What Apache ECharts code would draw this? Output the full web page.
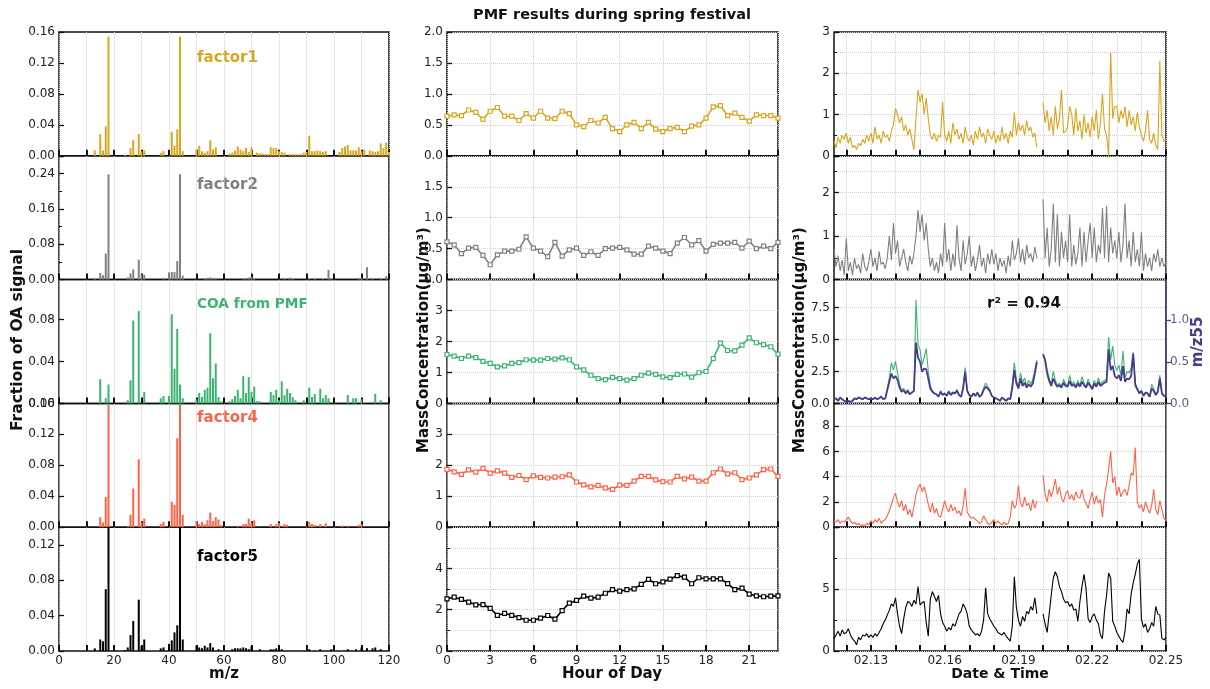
<!DOCTYPE html>
<html>
<head>
<meta charset="utf-8">
<script src="https://cdn.jsdelivr.net/npm/echarts@6/dist/echarts.min.js"></script>
<style>
    html, body { margin: 0; padding: 0; background: #fff; }
    #chart { width: 1210px; height: 689px; }
</style>
</head>
<body>
<div id="chart"></div>
<script>
    const FONT = 'DejaVu Sans';
    const factorNames = ['factor1', 'factor2', 'COA from PMF', 'factor4', 'factor5'];
    const factorColors = ['#DAA520', '#808080', '#3CB371', '#FF6347', '#000000'];
    const mz55Color = '#483D8B';

    // mass spectra: [m/z, fraction of OA signal]
    const ms1 = [[13,.007],[15,.028],[16,.007],[17,.038],[18,.154],[24,.001],[26,.010],[27,.020],[29,.028],[30,.006],[31,.007],
        [37,.004],[38,.006],[41,.031],[42,.013],[43,.034],[44,.154],[45,.006],[50,.008],[51,.013],[52,.006],[53,.004],[54,.006],
        [55,.020],[56,.008],[57,.011],[62,.003],[63,.004],[64,.007],[65,.012],[66,.008],[67,.006],[68,.010],[69,.005],[70,.011],
        [72,.004],[73,.003],[74,.003],[75,.002],[76,.002],[77,.011],[78,.010],[79,.010],[80,.006],[81,.005],[82,.004],[84,.002],
        [85,.002],[86,.002],[87,.002],[88,.002],[89,.004],[90,.005],[91,.026],[92,.006],[93,.006],[94,.007],[95,.006],[96,.005],
        [97,.006],[102,.005],[103,.010],[104,.012],[105,.014],[106,.007],[107,.007],[108,.007],[109,.011],[110,.006],[111,.008],
        [113,.007],[114,.006],[115,.005],[116,.006],[117,.016],[118,.010],[119,.017],[120,.005]];
    const ms2 = [[13,.002],[15,.015],[16,.010],[17,.059],[18,.238],[25,.005],[26,.014],[27,.023],[29,.045],[30,.011],[31,.011],
        [38,.004],[40,.016],[41,.017],[42,.017],[43,.042],[44,.238],[45,.009],[53,.002],[54,.004],[55,.005],[56,.003],[57,.003],
        [67,.002],[68,.003],[69,.005],[70,.006],[71,.003],[82,.002],[84,.004],[85,.002],[91,.002],[93,.002],[96,.003],[98,.022],
        [99,.003],[109,.003],[110,.004],[112,.028],[114,.002],[117,.002],[119,.008]];
    const ms3 = [[15,.023],[17,.005],[18,.018],[25,.003],[26,.022],[27,.079],[29,.088],[31,.011],[37,.005],[38,.007],[40,.007],
        [41,.085],[42,.033],[43,.071],[44,.018],[45,.005],[50,.004],[51,.010],[52,.006],[53,.013],[54,.015],[55,.067],[56,.024],
        [57,.038],[58,.006],[59,.002],[62,.002],[63,.004],[64,.007],[65,.013],[66,.005],[67,.026],[68,.010],[69,.025],[70,.011],
        [71,.016],[72,.002],[73,.002],[77,.011],[78,.008],[79,.013],[80,.003],[81,.021],[82,.008],[83,.014],[84,.010],[85,.006],
        [86,.003],[89,.003],[91,.015],[92,.006],[93,.009],[95,.014],[96,.005],[97,.008],[98,.005],[105,.008],[107,.005],[108,.005],
        [110,.004],[115,.009],[117,.003]];
    const ms4 = [[15,.013],[16,.006],[17,.039],[18,.158],[25,.002],[26,.016],[27,.050],[29,.088],[30,.006],[31,.011],[37,.004],
        [38,.007],[41,.033],[42,.029],[43,.115],[44,.158],[45,.016],[50,.008],[51,.004],[52,.007],[53,.004],[54,.009],[55,.019],
        [56,.008],[57,.013],[58,.010],[59,.003],[65,.002],[67,.004],[68,.004],[69,.011],[70,.006],[71,.009],[77,.004],[79,.004],
        [80,.005],[82,.004],[83,.003],[91,.007],[92,.004],[93,.003],[95,.004],[97,.005],[103,.002],[105,.002],[109,.003],[110,.004]];
    const ms5 = [[13,.003],[15,.013],[16,.011],[17,.070],[18,.250],[24,.001],[25,.004],[26,.018],[27,.034],[29,.058],[30,.006],
        [31,.013],[37,.003],[38,.004],[40,.008],[41,.012],[42,.021],[43,.029],[44,.250],[45,.013],[50,.006],[51,.004],[52,.003],
        [53,.006],[54,.004],[55,.009],[56,.004],[58,.002],[63,.002],[64,.003],[65,.003],[66,.003],[67,.004],[68,.003],[69,.002],
        [70,.005],[73,.002],[77,.002],[78,.002],[79,.003],[80,.006],[81,.002],[91,.002],[95,.002],[99,.002],[105,.002],[108,.002],
        [110,.004],[112,.003],[114,.003],[115,.004],[117,.002]];

    // diurnal cycles, half-hour steps from 0:00 to 23:00
    const hours = [0,0.5,1,1.5,2,2.5,3,3.5,4,4.5,5,5.5,6,6.5,7,7.5,8,8.5,9,9.5,10,10.5,11,11.5,
        12,12.5,13,13.5,14,14.5,15,15.5,16,16.5,17,17.5,18,18.5,19,19.5,20,20.5,21,21.5,22,22.5,23];
    const diurnal1 = [0.64,0.66,0.65,0.74,0.70,0.59,0.72,0.78,0.64,0.64,0.57,0.68,0.61,0.72,0.61,0.60,0.72,0.68,0.50,0.47,
        0.57,0.53,0.62,0.44,0.39,0.50,0.54,0.44,0.54,0.43,0.39,0.44,0.46,0.39,0.48,0.50,0.61,0.79,0.81,0.65,
        0.69,0.62,0.56,0.66,0.65,0.65,0.61];
    const diurnal2 = [0.61,0.56,0.42,0.51,0.52,0.39,0.24,0.40,0.46,0.46,0.49,0.69,0.51,0.46,0.37,0.60,0.38,0.48,0.51,0.39,
        0.45,0.39,0.50,0.51,0.52,0.48,0.41,0.41,0.54,0.51,0.46,0.42,0.59,0.68,0.56,0.63,0.46,0.57,0.59,0.59,
        0.60,0.51,0.62,0.50,0.54,0.50,0.60];
    const diurnal3 = [1.58,1.53,1.45,1.53,1.48,1.36,1.29,1.18,1.21,1.29,1.32,1.41,1.40,1.40,1.45,1.43,1.47,1.41,1.18,1.08,
        0.91,0.80,0.77,0.84,0.80,0.75,0.80,0.91,0.98,0.94,0.86,0.83,0.94,0.95,0.85,0.99,1.03,1.45,1.95,1.71,
        1.70,1.88,2.12,1.96,1.90,1.83,1.59];
    const diurnal4 = [1.87,1.79,1.71,1.85,1.78,1.90,1.75,1.82,1.75,1.61,1.67,1.54,1.66,1.61,1.59,1.62,1.63,1.69,1.46,1.37,
        1.30,1.35,1.27,1.22,1.36,1.35,1.49,1.64,1.64,1.53,1.47,1.46,1.64,1.56,1.62,1.49,1.49,1.76,1.88,1.72,
        1.76,1.54,1.59,1.69,1.86,1.88,1.64];
    const diurnal5 = [2.53,2.61,2.50,2.37,2.24,2.25,2.07,1.73,1.82,1.73,1.62,1.49,1.49,1.59,1.72,1.54,1.96,2.32,2.45,2.66,
        2.56,2.61,2.80,2.97,2.90,2.97,3.01,3.23,3.47,3.26,3.35,3.48,3.65,3.58,3.26,3.55,3.50,3.50,3.50,3.27,
        2.97,3.05,2.76,2.67,2.63,2.66,2.67];

    // time series, 2 h steps from 02.11 12:00 (day 11.5) to 02.25 00:00, one row per day
    const tsStart = 11.5;
    const tsStep = 1 / 12;
    const ts1 = [0.35,0.2,0.45,0.3,0.5,0.4,
        0.55,0.3,0.45,0.2,0.25,0.15,0.3,0.25,0.4,0.3,0.5,0.35,
        0.55,0.3,0.7,0.4,0.5,0.3,0.6,0.45,0.5,0.35,0.6,0.75,
        1.15,1.0,0.8,0.95,0.6,0.75,0.5,0.65,0.4,0.15,0.9,1.6,
        1.3,1.5,1.0,1.4,0.9,0.5,0.4,0.55,0.35,0.5,0.45,1.3,
        0.5,0.35,0.6,0.3,0.8,0.5,0.65,0.4,0.55,0.3,0.7,0.45,
        0.35,0.5,0.25,0.6,0.4,0.7,0.45,0.55,0.3,0.65,0.5,0.4,
        0.6,0.3,0.5,0.35,0.7,0.4,0.55,0.3,0.6,0.45,1.05,0.5,
        0.8,0.6,0.75,0.5,0.85,0.6,0.7,0.45,0.55,0.2,null,null,
        1.3,0.8,1.1,0.6,0.95,0.5,1.2,0.65,0.9,1.6,0.55,0.6,
        0.7,1.2,1.0,0.5,1.15,0.6,0.85,0.4,1.0,0.55,0.8,0.45,
        0.95,0.6,1.1,0.4,0.8,1.5,0.65,0.5,0.0,2.5,0.9,1.2,
        1.2,0.8,1.1,0.9,1.2,0.7,1.1,0.75,0.95,0.6,1.05,0.7,
        0.5,0.35,0.6,1.1,0.4,0.3,0.55,0.25,0.15,2.3,0.5,0.35,
        0.4];
    const ts2 = [0.7,0.3,0.55,0.2,0.45,0.1,
        0.95,0.2,0.4,0.1,0.5,0.25,0.35,0.15,0.6,0.3,0.2,0.4,
        0.7,0.3,0.5,0.2,0.65,0.35,0.4,0.25,0.5,1.0,0.45,1.3,
        0.6,0.9,0.3,0.5,0.7,0.4,0.2,0.55,0.35,0.6,1.0,1.6,
        1.1,1.5,0.9,1.3,0.7,0.3,0.5,0.2,0.4,0.15,0.6,0.3,
        1.3,0.4,0.7,0.2,0.6,0.3,1.25,0.5,0.2,0.9,0.35,0.6,
        1.0,0.3,0.55,0.2,0.45,0.8,0.3,0.5,0.15,0.6,0.35,0.7,
        0.35,0.6,0.2,0.5,0.3,0.45,0.15,0.55,0.3,0.9,0.45,0.6,
        0.95,0.4,0.7,0.35,0.8,0.5,0.6,0.4,0.75,0.5,null,null,
        1.85,0.5,1.2,0.3,0.7,1.75,0.4,1.5,0.3,1.1,0.5,0.9,
        0.4,1.5,0.3,0.8,0.35,0.6,1.2,0.3,1.1,0.4,0.9,1.3,
        0.5,1.2,0.4,0.8,0.6,1.65,0.5,1.7,0.4,1.2,0.6,0.9,
        0.5,1.1,0.4,0.8,1.75,0.5,0.9,0.3,1.1,0.4,0.7,0.3,
        1.1,0.2,0.6,0.3,0.5,0.2,0.6,0.4,0.7,0.3,0.5,0.3,
        0.4];
    const ts3 = [0.3,0.4,0.2,0.5,0.3,0.2,
        0.1,0.2,0.1,0.2,0.4,0.3,0.5,0.4,0.3,0.5,0.4,0.3,
        0.4,0.3,0.5,0.3,0.4,0.6,0.3,0.4,1.2,2.0,3.2,2.6,
        3.3,2.4,1.5,1.0,1.2,0.8,1.1,0.7,0.9,1.0,8.1,4.6,
        4.2,3.0,3.6,4.3,2.5,1.4,1.0,0.8,0.7,0.5,1.0,0.7,
        0.8,0.6,1.0,0.7,0.9,0.8,1.1,0.7,0.5,1.3,2.8,1.0,
        0.7,0.5,0.8,0.6,0.9,0.5,0.7,1.2,1.6,1.3,1.1,0.6,
        0.5,0.4,0.3,0.2,0.5,0.3,0.2,0.4,0.3,1.5,3.2,1.8,
        1.3,2.4,1.6,2.0,1.4,1.8,1.5,1.9,2.6,3.4,null,null,
        3.9,3.5,2.6,2.0,1.5,2.5,1.8,1.4,1.6,1.3,1.9,1.5,
        1.4,2.2,1.5,1.7,1.3,1.8,1.4,2.1,1.6,1.3,1.9,1.5,
        1.2,1.8,1.4,2.0,1.5,1.7,1.8,1.9,5.2,3.4,4.5,3.0,
        2.6,3.0,2.2,4.1,2.0,2.5,2.4,2.8,4.0,1.6,1.2,0.8,
        1.0,0.6,0.9,0.8,0.5,1.5,1.2,0.7,1.0,2.2,0.8,0.6,
        0.5];
    const mz55 = [0.05,0.06,0.03,0.07,0.05,0.03,
        0.02,0.03,0.02,0.03,0.06,0.05,0.07,0.06,0.05,0.07,0.06,0.05,
        0.06,0.05,0.07,0.05,0.06,0.08,0.05,0.06,0.16,0.26,0.36,0.30,
        0.33,0.28,0.19,0.14,0.16,0.12,0.15,0.11,0.13,0.15,0.73,0.55,
        0.50,0.38,0.42,0.41,0.30,0.18,0.14,0.12,0.11,0.08,0.14,0.10,
        0.12,0.09,0.14,0.10,0.13,0.12,0.15,0.10,0.08,0.18,0.38,0.15,
        0.10,0.08,0.12,0.09,0.13,0.08,0.10,0.16,0.20,0.18,0.15,0.09,
        0.07,0.06,0.05,0.03,0.07,0.05,0.03,0.06,0.05,0.19,0.40,0.24,
        0.18,0.30,0.21,0.25,0.19,0.23,0.20,0.24,0.36,0.50,null,null,
        0.59,0.52,0.36,0.27,0.21,0.30,0.24,0.20,0.22,0.19,0.25,0.21,
        0.20,0.27,0.21,0.23,0.19,0.24,0.20,0.26,0.22,0.19,0.25,0.21,
        0.17,0.24,0.20,0.26,0.21,0.23,0.25,0.26,0.65,0.40,0.45,0.33,
        0.30,0.34,0.27,0.45,0.26,0.30,0.29,0.33,0.60,0.22,0.17,0.12,
        0.15,0.09,0.13,0.12,0.08,0.18,0.15,0.10,0.14,0.30,0.12,0.09,
        0.08];
    const ts4 = [0.5,0.4,0.6,0.3,0.5,0.4,
        0.6,0.8,0.5,0.3,0.4,0.2,0.3,0.1,0.2,0.1,0.3,0.2,
        0.5,0.3,0.6,0.4,0.7,0.3,0.5,0.6,0.9,1.3,1.8,2.3,
        2.7,2.0,1.6,2.1,1.3,1.8,1.0,1.4,0.8,1.6,2.6,3.1,
        3.4,2.8,3.2,2.6,1.8,1.2,1.9,1.1,1.5,0.9,0.8,1.4,
        2.1,1.5,1.2,1.8,1.3,1.6,1.1,1.3,0.9,1.7,3.1,1.2,
        0.9,0.7,0.8,0.6,0.5,0.3,0.4,0.9,0.6,0.3,0.2,0.4,
        0.6,0.3,0.5,0.3,0.2,0.4,0.2,0.3,0.8,2.1,1.5,1.8,
        3.3,1.9,1.6,2.4,1.7,1.9,1.3,2.2,1.5,2.1,null,null,
        4.1,2.6,2.0,3.0,2.4,3.0,3.8,2.6,3.2,2.3,2.0,2.6,
        2.9,2.2,2.6,2.1,2.8,2.4,2.3,3.0,2.2,1.9,1.5,2.2,
        2.8,1.8,2.5,1.9,2.2,0.8,2.5,3.4,4.6,6.0,3.5,4.0,
        2.5,3.2,2.4,2.8,3.0,2.5,3.3,4.3,4.1,6.3,2.0,1.5,
        1.8,1.2,2.0,1.5,1.1,1.7,3.0,1.4,1.0,2.1,1.4,0.7,
        0.5];
    const ts5 = [1.0,1.3,1.6,1.2,1.7,1.4,
        1.5,1.8,1.3,1.0,0.8,0.5,1.1,0.9,1.3,1.2,1.4,1.1,
        1.3,1.1,1.4,1.2,1.5,1.8,2.2,2.5,2.9,3.3,3.8,3.6,
        4.3,3.0,2.0,1.4,2.6,3.5,4.0,3.9,3.6,4.1,3.8,5.2,
        3.7,3.9,4.0,2.3,1.2,4.2,4.8,4.4,4.0,4.5,3.0,2.3,
        2.0,1.6,1.9,1.7,2.2,2.0,2.5,3.0,3.2,3.8,3.5,3.0,
        2.0,1.7,1.5,1.3,1.4,1.2,1.6,2.5,5.1,3.0,2.6,2.3,
        2.0,1.8,1.5,1.4,1.3,1.5,1.2,1.0,0.8,2.0,6.0,3.5,
        2.5,2.0,2.8,2.4,3.2,3.0,3.6,3.3,4.3,3.0,null,null,
        3.0,2.2,1.5,3.0,4.5,5.9,6.4,6.0,5.2,4.8,4.2,3.9,
        4.0,3.6,3.8,3.3,3.4,2.4,4.0,5.2,6.2,5.0,2.6,2.3,
        2.8,3.0,2.5,2.2,1.3,1.0,3.2,4.5,6.3,5.9,2.4,2.0,
        1.5,1.2,0.9,0.7,1.6,3.4,3.0,4.6,5.5,6.2,7.0,7.4,
        2.6,1.9,2.2,1.5,1.8,2.3,2.0,3.6,3.0,2.9,1.0,0.9,
        1.1];

    const spectra = [ms1, ms2, ms3, ms4, ms5];
    const diurnals = [diurnal1, diurnal2, diurnal3, diurnal4, diurnal5];
    const timeSeries = [ts1, ts2, ts3, ts4, ts5];

    // axis ranges per panel (rows top -> bottom)
    const leftY = [
        {max: 0.16, interval: 0.04, dec: 2, showMax: true},
        {max: 0.28, interval: 0.08, dec: 2, showMax: false, minor: true},
        {max: 0.118, interval: 0.04, dec: 2, showMax: false},
        {max: 0.16, interval: 0.04, dec: 2, showMax: true},
        {max: 0.14, interval: 0.04, dec: 2, showMax: false}
    ];
    const midY = [
        {max: 2, interval: 0.5, dec: 1, showMax: true},
        {max: 2, interval: 0.5, dec: 1, showMax: false},
        {max: 4, interval: 1, dec: 0, showMax: false},
        {max: 4, interval: 1, dec: 0, showMax: false},
        {max: 6, interval: 2, dec: 0, showMax: false, minor: true}
    ];
    const rightY = [
        {max: 3, interval: 1, dec: 0, showMax: true, minor: true},
        {max: 2.85, interval: 1, dec: 0, showMax: false, minor: true},
        {max: 9.7, interval: 2.5, dec: 1, showMax: false},
        {max: 9.8, interval: 2, dec: 0, showMax: false},
        {max: 10, interval: 5, dec: 0, showMax: false, minor: true}
    ];
    const dayTicks = [12, 13, 14, 15, 16, 17, 18, 19, 20, 21, 22, 23, 24, 25];
    const dayLabels = [13, 16, 19, 22, 25];

    const rowTop = [32, 155.8, 279.6, 403.4, 527.2];
    const rowH = 123.8;
    const colLeft = [59, 447, 834];
    const colW = [330, 331, 332];

    const gridLine = {show: true, lineStyle: {color: '#cfcfcf', type: 'dotted', width: 1}};
    const labelStyle = {color: '#222', fontFamily: FONT, fontSize: 12};

    const grids = [], xAxes = [], yAxes = [], series = [];

    for (let c = 0; c < 3; c++) {
        for (let r = 0; r < 5; r++) {
            const gi = c * 5 + r;
            const bottom = r === 4;
            grids.push({
                left: colLeft[c], top: rowTop[r], width: colW[c], height: rowH,
                show: true, borderColor: '#111', borderWidth: 1.5,
                backgroundColor: 'rgba(0,0,0,0)', containLabel: false, outerBoundsMode: 'none'
            });

            const xa = {
                gridIndex: gi, type: 'value',
                axisLine: {show: false},
                axisTick: {show: true, inside: true, length: 6, lineStyle: {color: '#111', width: 2}},
                axisLabel: Object.assign({show: bottom, margin: 4}, labelStyle),
                splitLine: gridLine
            };
            if (c === 0) {
                Object.assign(xa, {min: 0, max: 120, interval: 10});
                xa.axisLabel.formatter = v => (v % 20 === 0 ? String(v) : '');
            } else if (c === 1) {
                Object.assign(xa, {min: 0, max: 23, interval: 3});
                xa.axisLabel.showMaxLabel = false;
            } else {
                Object.assign(xa, {min: 11.5, max: 25});
                xa.axisTick.customValues = dayTicks;
                xa.axisLabel.customValues = dayLabels;
                xa.axisLabel.formatter = v => '02.' + v;
            }
            xAxes.push(xa);

            const cfg = [leftY, midY, rightY][c][r];
            yAxes.push({
                gridIndex: gi, type: 'value', min: 0, max: cfg.max, interval: cfg.interval,
                axisLine: {show: false},
                axisTick: {show: true, inside: true, length: 5, lineStyle: {color: '#111', width: 1.3}},
                minorTick: {show: !!cfg.minor, splitNumber: 2, length: 3, lineStyle: {color: '#111', width: 1}},
                axisLabel: Object.assign({
                    margin: 4, showMaxLabel: cfg.showMax, showMinLabel: true,
                    formatter: v => v.toFixed(cfg.dec)
                }, labelStyle),
                splitLine: {show: c !== 0, lineStyle: gridLine.lineStyle},
                minorSplitLine: {show: c !== 0 && !!cfg.minor, lineStyle: gridLine.lineStyle}
            });

            if (c === 0) {
                series.push({
                    type: 'bar', xAxisIndex: gi, yAxisIndex: gi,
                    data: spectra[r], barWidth: 2, clip: true, silent: true,
                    itemStyle: {color: factorColors[r]}
                });
            } else if (c === 1) {
                series.push({
                    type: 'line', xAxisIndex: gi, yAxisIndex: gi, clip: true, silent: true,
                    data: hours.map((h, i) => [h, diurnals[r][i]]),
                    symbol: 'rect', symbolSize: 4, showAllSymbol: true,
                    lineStyle: {color: factorColors[r], width: 1.6},
                    itemStyle: {color: '#fff', borderColor: factorColors[r], borderWidth: 1.2}
                });
            } else {
                series.push({
                    type: 'line', xAxisIndex: gi, yAxisIndex: gi, clip: true, silent: true,
                    data: timeSeries[r].map((v, i) => [tsStart + i * tsStep, v]),
                    symbol: 'none', connectNulls: false,
                    lineStyle: {color: factorColors[r], width: 1.1}
                });
            }
        }
    }

    // m/z 55 on a second axis in the COA time series panel
    yAxes.push({
        gridIndex: 12, type: 'value', position: 'right', min: 0, max: 1.49, interval: 0.5,
        axisLine: {show: true, lineStyle: {color: mz55Color, width: 1.5}},
        axisTick: {show: true, inside: false, length: 5, lineStyle: {color: mz55Color, width: 1.3}},
        axisLabel: {margin: 4, color: '#5a5a96', fontFamily: FONT, fontSize: 12, showMaxLabel: false,
            formatter: v => v.toFixed(1)},
        splitLine: {show: false}
    });
    series.push({
        type: 'line', xAxisIndex: 12, yAxisIndex: 15, clip: true, silent: true,
        data: mz55.map((v, i) => [tsStart + i * tsStep, v]),
        symbol: 'none', connectNulls: false,
        lineStyle: {color: mz55Color, width: 1.8}
    });

    function text(str, x, y, size, color, rotate, bold) {
        return {
            type: 'text', x: x, y: y, rotation: rotate ? Math.PI / 2 : 0, silent: true,
            style: {
                text: str, fill: color, align: 'center', verticalAlign: 'middle',
                font: (bold === false ? '' : 'bold ') + size + 'px "' + FONT + '"'
            }
        };
    }

    const panelLabelY = [57.7, 185, 304, 418, 557];
    const graphics = [
        text('PMF results during spring festival', 612, 15, 14.5, '#111'),
        text('Fraction of OA signal', 17.5, 340, 15.5, '#111', true),
        text('MassConcentration(\u03bcg/m\u00b3)', 424, 340, 15, '#111', true),
        text('MassConcentration(\u03bcg/m\u00b3)', 800, 340, 15, '#111', true),
        text('m/z55', 1198, 342, 15, mz55Color, true),
        text('m/z', 224, 674, 15, '#111'),
        text('Hour of Day', 612, 674, 15, '#111'),
        text('Date & Time', 1000, 674, 14, '#111'),
        text('r\u00b2 = 0.94', 1024, 304, 15, '#111')
    ];
    factorNames.forEach((name, r) => {
        const g = text(name, 197, panelLabelY[r], r === 2 ? 13.7 : 15, factorColors[r]);
        g.style.align = 'left';
        graphics.push(g);
    });

    const chart = echarts.init(document.getElementById('chart'), null, {renderer: 'canvas'});
    chart.setOption({
        animation: false,
        backgroundColor: '#fff',
        grid: grids,
        xAxis: xAxes,
        yAxis: yAxes,
        series: series,
        graphic: graphics
    });
</script>
</body>
</html>
